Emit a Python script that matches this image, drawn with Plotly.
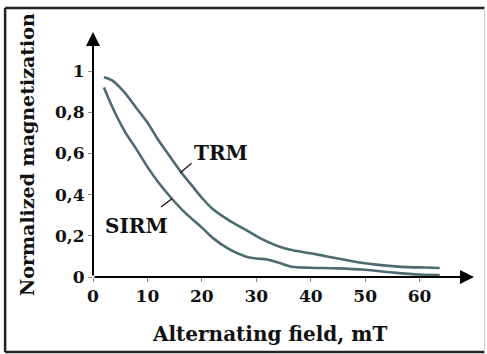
import plotly.graph_objects as go

# ---- data ----
trm_x = [2, 3.5, 5.5, 8, 10, 12, 14, 16.3, 18, 20, 22, 25, 28, 30.6, 34.3, 36.7, 40, 43, 46, 49, 52, 55, 58, 61, 63.7]
trm_y = [0.97, 0.955, 0.905, 0.82, 0.75, 0.665, 0.59, 0.505, 0.45, 0.385, 0.33, 0.275, 0.23, 0.19, 0.147, 0.13, 0.115, 0.10, 0.085, 0.07, 0.06, 0.053, 0.048, 0.046, 0.044]
sirm_x = [2, 4, 6, 8, 10, 12, 14.5, 17, 20, 22, 25, 28, 30, 32, 34, 36.5, 40, 45, 50, 55, 60, 63.7]
sirm_y = [0.92, 0.80, 0.70, 0.62, 0.535, 0.46, 0.38, 0.31, 0.24, 0.19, 0.135, 0.10, 0.09, 0.085, 0.07, 0.05, 0.045, 0.042, 0.035, 0.022, 0.012, 0.01]
x_ticks = [0, 10, 20, 30, 40, 50, 60]
y_ticks = [0, 0.2, 0.4, 0.6, 0.8, 1]
y_tick_text = ["0", "0,2", "0,4", "0,6", "0,8", "1"]

FONT = "DejaVu Serif"
LINE_COLOR = "#4e6a72"
TXT = "#111111"

fig = go.Figure()
fig.add_trace(go.Scatter(x=trm_x, y=trm_y, mode="lines", name="TRM",
                         line=dict(color=LINE_COLOR, width=2.6, shape="spline", smoothing=1.0)))
fig.add_trace(go.Scatter(x=sirm_x, y=sirm_y, mode="lines", name="SIRM",
                         line=dict(color=LINE_COLOR, width=2.6, shape="spline", smoothing=1.0)))

# plot area: x 93..474.5, y 32..277
L, R, T, B = 93, 12.5, 32, 77
W, H = 487, 354
pw, ph = W - L - R, H - T - B

def px(xp):
    return (xp - L) / pw

def py(yp):
    return (H - B - yp) / ph

fig.update_layout(
    width=W, height=H,
    margin=dict(l=L, r=R, t=T, b=B),
    paper_bgcolor="white", plot_bgcolor="white",
    showlegend=False,
    font=dict(family=FONT, color=TXT),
    xaxis=dict(range=[0, 70], showgrid=False, zeroline=False, showline=False,
               tickvals=x_ticks, ticks="outside", ticklen=4, tickcolor="#888888",
               tickfont=dict(family=FONT, size=17, color=TXT, weight="bold")),
    yaxis=dict(range=[0, 1.19], showgrid=False, zeroline=False, showline=False,
               tickvals=y_ticks, ticktext=y_tick_text, ticks="outside", ticklen=4,
               tickcolor="#888888",
               tickfont=dict(family=FONT, size=17, color=TXT, weight="bold")),
)

ann = []
# axis arrows
ann.append(dict(x=70, y=0, ax=0, ay=0, xref="x", yref="y", axref="x", ayref="y",
                showarrow=True, arrowhead=2, arrowsize=1.4, arrowwidth=2, arrowcolor="#000000", text=""))
ann.append(dict(x=0, y=1.19, ax=0, ay=0, xref="x", yref="y", axref="x", ayref="y",
                showarrow=True, arrowhead=2, arrowsize=1.4, arrowwidth=2, arrowcolor="#000000", text=""))
# axis titles
ann.append(dict(x=px(270), y=py(334), xref="paper", yref="paper", showarrow=False,
                text="Alternating field, mT", font=dict(family=FONT, size=20, color=TXT, weight="bold"),
                xanchor="center", yanchor="middle"))
ann.append(dict(x=px(27), y=py(155), xref="paper", yref="paper", showarrow=False, textangle=-90,
                text="Normalized magnetization", font=dict(family=FONT, size=19, color=TXT, weight="bold"),
                xanchor="center", yanchor="middle"))
# curve labels
ann.append(dict(x=23.6, y=0.60, xref="x", yref="y", showarrow=False, text="TRM",
                font=dict(family=FONT, size=20, color=TXT, weight="bold")))
ann.append(dict(x=8.0, y=0.25, xref="x", yref="y", showarrow=False, text="SIRM",
                font=dict(family=FONT, size=20, color=TXT, weight="bold")))
fig.update_layout(annotations=ann)

shapes = [
    # leader lines
    dict(type="line", xref="x", yref="y", x0=16.0, y0=0.505, x1=18.1, y1=0.552,
         line=dict(color=TXT, width=1.3)),
    dict(type="line", xref="x", yref="y", x0=12.5, y0=0.34, x1=14.5, y1=0.38,
         line=dict(color=TXT, width=1.3)),
    # outer frame
    dict(type="line", xref="paper", yref="paper", x0=px(5), y0=py(8), x1=px(485), y1=py(8),
         line=dict(color="#222222", width=2.5)),
    dict(type="line", xref="paper", yref="paper", x0=px(5), y0=py(352), x1=px(485), y1=py(352),
         line=dict(color="#222222", width=2.5)),
    dict(type="line", xref="paper", yref="paper", x0=px(5), y0=py(8), x1=px(5), y1=py(352),
         line=dict(color="#222222", width=2.5)),
    dict(type="line", xref="paper", yref="paper", x0=px(485), y0=py(8), x1=px(485), y1=py(352),
         line=dict(color="#cccccc", width=1)),
]
fig.update_layout(shapes=shapes)

fig.write_html("out.html")
